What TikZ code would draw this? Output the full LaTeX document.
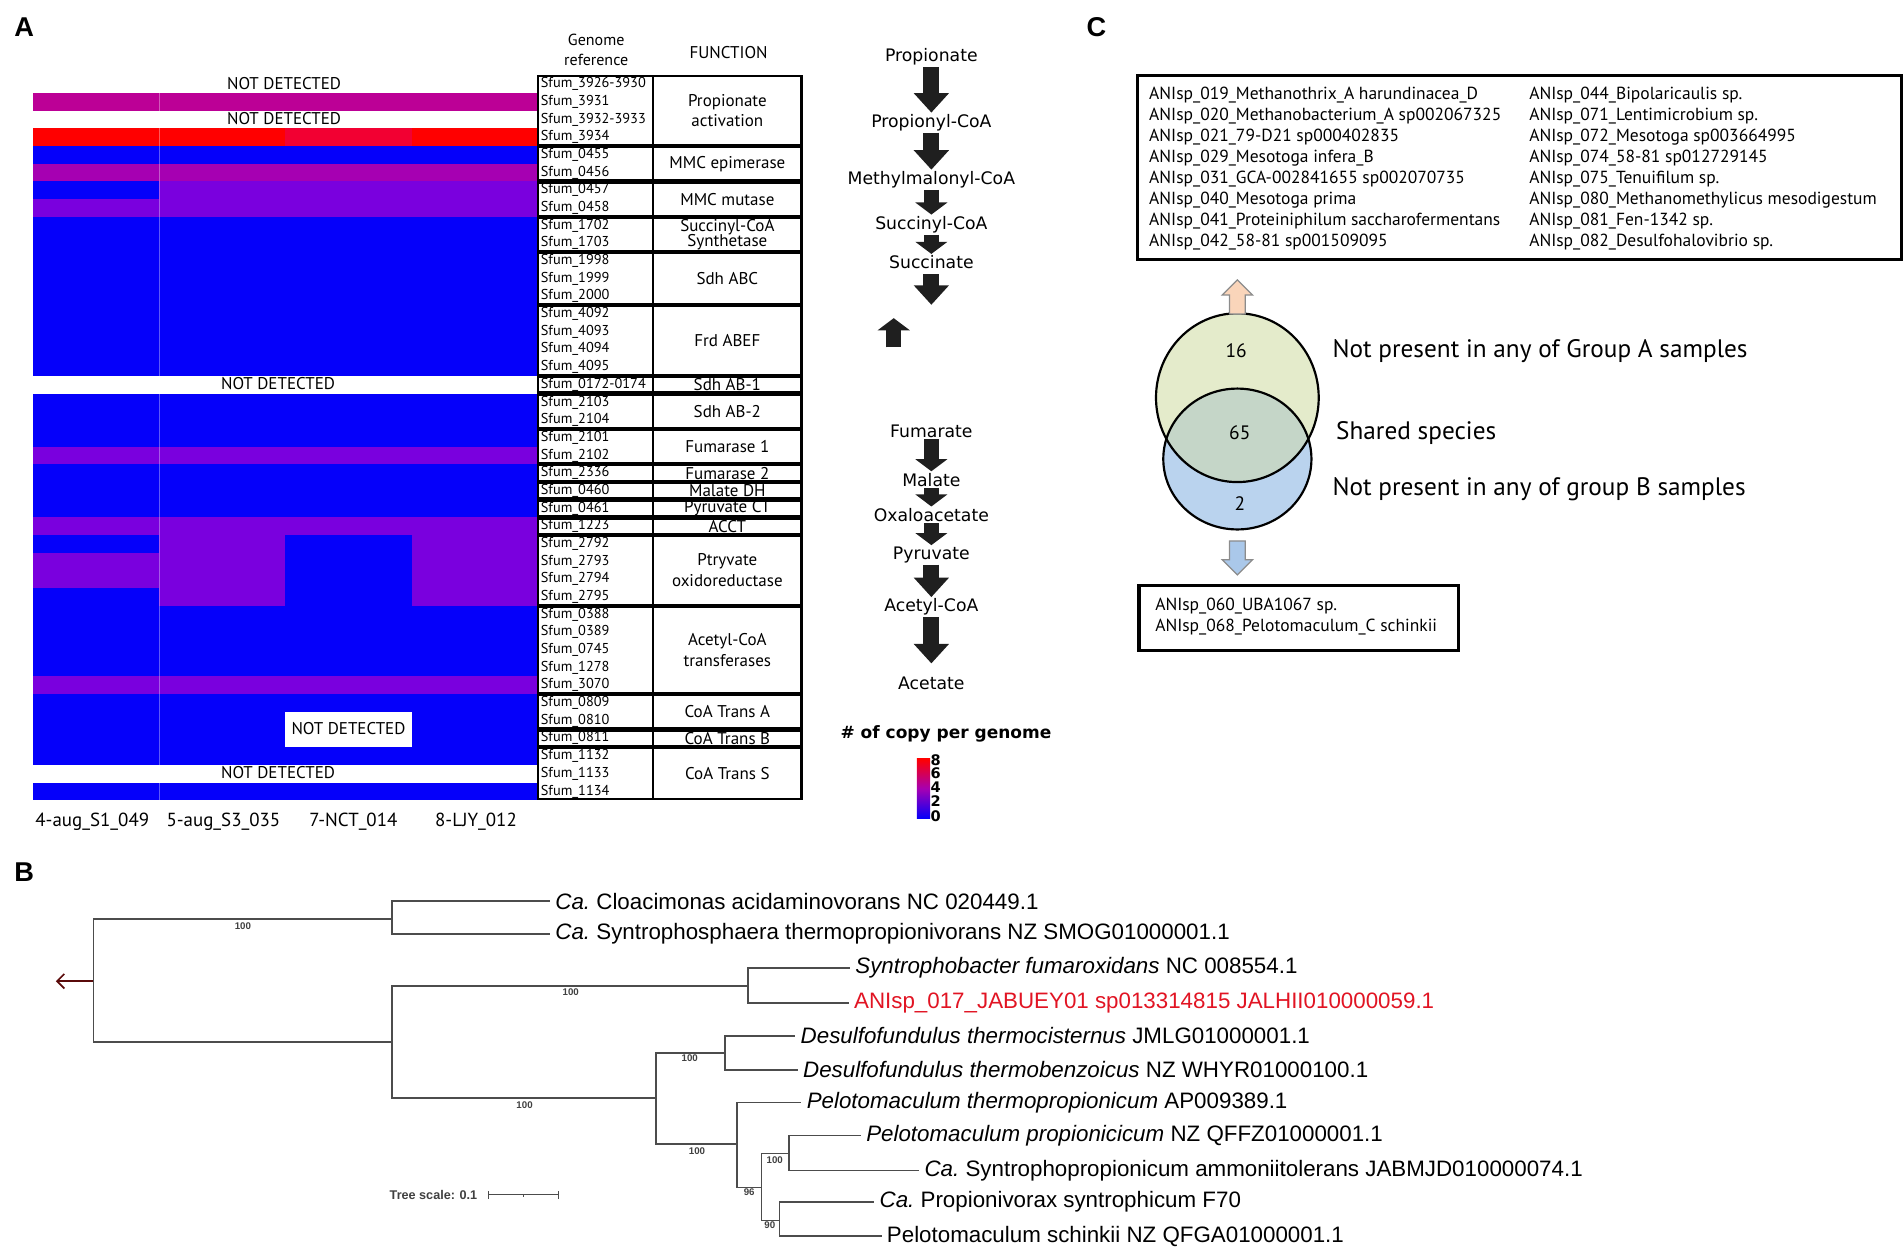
\documentclass[tikz,border=0pt]{standalone}
\usepackage{fontspec}
\setmainfont{Liberation Sans}
\newfontfamily\ptsans{PT Sans}
\newfontfamily\dvsans{DejaVu Sans}
\usetikzlibrary{arrows.meta}
\usetikzlibrary{shapes.arrows}
\usetikzlibrary{positioning}

\definecolor{hmblue}{RGB}{5,0,250}
\definecolor{hmvio}{RGB}{122,0,222}
\definecolor{hmpur}{RGB}{166,0,178}
\definecolor{hmmag}{RGB}{188,0,150}
\definecolor{hmred}{RGB}{255,0,0}
\definecolor{hmredb}{RGB}{242,0,50}
\definecolor{venntop}{RGB}{228,235,203}
\definecolor{vennbot}{RGB}{186,211,238}
\definecolor{vennmid}{RGB}{197,214,200}
\definecolor{upfill}{RGB}{250,213,186}
\definecolor{downfill}{RGB}{170,200,234}
\definecolor{hilite}{RGB}{225,20,35}
\definecolor{rootred}{RGB}{90,10,10}

\tikzset{
  panel/.style={inner sep=0pt, font=\bfseries\fontsize{11.2}{13}\selectfont},
  sfum/.style={anchor=west, inner sep=0pt, font=\ptsans\fontsize{5.9}{6}\selectfont},
  func/.style={align=center, inner sep=0pt, font=\ptsans\fontsize{7}{8.5}\selectfont},
  nd/.style={inner sep=0pt, font=\ptsans\fontsize{7}{8}\selectfont},
  grp/.style={draw=black, line width=0.9pt},
  metab/.style={inner xsep=1.5pt, inner ysep=0.5pt, font=\dvsans\fontsize{7.1}{8}\selectfont},
  flow/.style={line width=6.5pt, draw=black!88, -{Triangle[length=8pt,width=14pt]}},
  flowshort/.style={line width=6pt, draw=black!88, -{Triangle[length=5pt,width=13pt]}},
  leaf/.style={anchor=west, inner sep=2pt, font=\fontsize{9.2}{10}\selectfont},
  boot/.style={inner sep=0pt, font=\bfseries\fontsize{4}{4}\selectfont, text=black!75},
  branch/.style={draw=black!70, line width=0.7pt},
  ctext/.style={anchor=west, inner sep=0pt, font=\ptsans\fontsize{10.4}{12}\selectfont},
  clist/.style={anchor=west, align=left, inner sep=0pt, font=\ptsans\fontsize{7.2}{8.65}\selectfont},
  cnum/.style={inner sep=0pt, font=\ptsans\fontsize{8}{9}\selectfont},
  cbox/.style={draw=black, line width=1.3pt},
  blockarr/.style={single arrow, draw=black!45, line width=0.5pt, inner sep=3pt,
    single arrow head extend=3pt, single arrow head indent=0pt, minimum height=14pt},
}

\begin{document}
\begin{tikzpicture}[x=0.5pt,y=-0.5pt]
  \useasboundingbox (0,0) rectangle (1568,1029);

  % ---------------- A: heat map
  \node[panel] (la) at (20,22) {A};
  \fill[hmblue] (27,62) rectangle (443,659);
  \foreach \row/\hA/\hB/\hC/\hD in {1/white/white/white/white, 2/hmmag/hmmag/hmmag/hmmag,
      3/white/white/white/white, 4/hmred/hmred/hmredb/hmred, 6/hmpur/hmpur/hmpur/hmpur,
      7/hmblue/hmvio/hmvio/hmvio, 8/hmvio/hmvio/hmvio/hmvio, 18/white/white/white/white,
      22/hmvio/hmvio/hmvio/hmvio, 26/hmvio/hmvio/hmvio/hmvio, 27/hmblue/hmvio/hmblue/hmvio,
      28/hmvio/hmvio/hmblue/hmvio, 29/hmvio/hmvio/hmblue/hmvio, 30/hmblue/hmvio/hmblue/hmvio,
      35/hmvio/hmvio/hmvio/hmvio, 37/hmblue/hmblue/white/hmblue, 38/hmblue/hmblue/white/hmblue,
      40/white/white/white/white}
  {
    \pgfmathsetmacro{\yt}{62+(\row-1)*14.561}
    \fill[\hA] (27,\yt) rectangle ++(104.6,14.561);
    \fill[\hB] (131,\yt) rectangle ++(104.6,14.561);
    \fill[\hC] (235,\yt) rectangle ++(104.6,14.561);
    \fill[\hD] (339,\yt) rectangle ++(104,14.561);
  }
  \draw[white, opacity=0.35, line width=0.3pt] (131,75.5) -- (131,659);

  \node[nd] (nd1) at (234,69) {NOT DETECTED};
  \node[nd] (nd2) at (234,98) {NOT DETECTED};
  \node[nd] (nd3) at (229,316) {NOT DETECTED};
  \node[nd] (nd4) at (287,600) {NOT DETECTED};
  \node[nd] (nd5) at (229,636) {NOT DETECTED};

  % genome references
  \node[func, font=\ptsans\fontsize{6.6}{8.3}\selectfont] (gh) at (491,41) {Genome\\reference};
  \node[func] (fh) at (600,43) {FUNCTION};
  \foreach \lab [count=\n] in {3926-3930, 3931, 3932-3933, 3934, 0455, 0456, 0457, 0458,
      1702, 1703, 1998, 1999, 2000, 4092, 4093, 4094, 4095, 0172-0174, 2103, 2104, 2101,
      2102, 2336, 0460, 0461, 1223, 2792, 2793, 2794, 2795, 0388, 0389, 0745, 1278, 3070,
      0809, 0810, 0811, 1132, 1133, 1134}
    \node[sfum] (g\n) at (445,{62+(\n-0.5)*14.561}) {Sfum\_\lab};

  \foreach \a/\b/\txt [count=\n] in {1/4/{Propionate\\activation}, 5/6/{MMC epimerase},
      7/8/{MMC mutase}, 9/10/{Succinyl-CoA\\[-2.5pt]Synthetase}, 11/13/{Sdh ABC},
      14/17/{Frd ABEF}, 18/18/{Sdh AB-1}, 19/20/{Sdh AB-2}, 21/22/{Fumarase 1},
      23/23/{Fumarase 2}, 24/24/{Malate DH}, 25/25/{Pyruvate CT}, 26/26/{ACCT},
      27/30/{Ptryvate\\oxidoreductase}, 31/35/{Acetyl-CoA\\transferases},
      36/37/{CoA Trans A}, 38/38/{CoA Trans B}, 39/41/{CoA Trans S}}
  {
    \pgfmathsetmacro{\yt}{62+(\a-1)*14.561+0.9}
    \pgfmathsetmacro{\yb}{62+\b*14.561-0.9}
    \draw[grp] (443,\yt) rectangle (660,\yb);
    \draw[grp] (538,\yt) -- (538,\yb);
    \node[func] (f\n) at (599,{(\yt+\yb)/2}) {\txt};
  }

  % samples
  \node[nd, font=\ptsans\fontsize{7.8}{9}\selectfont] (s1) at (76,677) {4-aug\_S1\_049};
  \node[nd, font=\ptsans\fontsize{7.8}{9}\selectfont] (s2) at (184,677) {5-aug\_S3\_035};
  \node[nd, font=\ptsans\fontsize{7.8}{9}\selectfont] (s3) at (291,677) {7-NCT\_014};
  \node[nd, font=\ptsans\fontsize{7.8}{9}\selectfont] (s4) at (392,677) {8-LJY\_012};

  % pathway
  \node[metab] (m1) at (767,47) {Propionate};
  \node[metab] (m2) at (767,101) {Propionyl-CoA};
  \node[metab] (m3) at (767,148) {Methylmalonyl-CoA};
  \node[metab] (m4) at (767,185) {Succinyl-CoA};
  \node[metab] (m5) at (767,216) {Succinate};
  \coordinate (m5b) at (767,251);
  \coordinate (upa) at (736,286);
  \coordinate (upb) at (736,262);
  \node[metab] (m6) at (767,355) {Fumarate};
  \node[metab] (m7) at (767,395) {Malate};
  \node[metab] (m8) at (767,424) {Oxaloacetate};
  \node[metab] (m9) at (767,457) {Pyruvate};
  \node[metab] (m10) at (767,500) {Acetyl-CoA};
  \node[metab] (m11) at (767,563) {Acetate};
  \draw[flow] (m1) -- (m2);
  \draw[flow] (m2) -- (m3);
  \draw[flowshort] (m3) -- (m4);
  \draw[flowshort] (m4) -- (m5);
  \draw[flow] ([yshift=-1.5pt]m5.south) -- (m5b);
  \draw[flowshort] (upa) -- (upb);
  \draw[flowshort] (m6) -- (m7);
  \draw[flowshort] (m7) -- (m8);
  \draw[flowshort] (m8) -- (m9);
  \draw[flow] (m9) -- (m10);
  \draw[flow] (m10) -- ([yshift=5pt]m11.north);

  % legend
  \node[inner sep=0pt, font=\dvsans\bfseries\fontsize{7}{8}\selectfont] (leg) at (779,604) {\# of copy per genome};
  \shade[bottom color=hmblue, top color=hmred, middle color=hmpur] (755,625) rectangle (766,674);
  \foreach \v/\y in {8/626, 6/637, 4/648, 2/660, 0/672}
    \node[anchor=west, inner sep=0pt, font=\dvsans\bfseries\fontsize{6}{6}\selectfont] (c\v) at (766,\y) {\v};

  % ---------------- C: venn
  \node[panel] (lc) at (903,22) {C};
  \draw[cbox] (937,62) rectangle (1566,214);
  \node[clist] (cl) at (946,139) {ANIsp\_019\_Methanothrix\_A harundinacea\_D\\
    ANIsp\_020\_Methanobacterium\_A sp002067325\\ ANIsp\_021\_79-D21 sp000402835\\
    ANIsp\_029\_Mesotoga infera\_B\\ ANIsp\_031\_GCA-002841655 sp002070735\\
    ANIsp\_040\_Mesotoga prima\\ ANIsp\_041\_Proteiniphilum saccharofermentans\\
    ANIsp\_042\_58-81 sp001509095};
  \node[clist] (cr) at (1259,139) {ANIsp\_044\_Bipolaricaulis sp.\\
    ANIsp\_071\_Lentimicrobium sp.\\ ANIsp\_072\_Mesotoga sp003664995\\
    ANIsp\_074\_58-81 sp012729145\\ ANIsp\_075\_Tenuifilum sp.\\
    ANIsp\_080\_Methanomethylicus mesodigestum\\ ANIsp\_081\_Fen-1342 sp.\\
    ANIsp\_082\_Desulfohalovibrio sp.};

  \fill[venntop] (1019,327.5) ellipse [x radius=67, y radius=69.5];
  \fill[vennbot] (1019,378) ellipse [x radius=61, y radius=58];
  \begin{scope}
    \clip (1019,327.5) ellipse [x radius=67, y radius=69.5];
    \fill[vennmid] (1019,378) ellipse [x radius=61, y radius=58];
  \end{scope}
  \draw[line width=0.9pt] (1019,378) ellipse [x radius=61, y radius=58];
  \draw[line width=0.9pt] (1019,327.5) ellipse [x radius=67, y radius=69.5];
  \coordinate (vt) at (1019,259);
  \coordinate (vb) at (1019,436);
  \node[cnum] (v16) at (1018,289) {16};
  \node[cnum] (v65) at (1021,356) {65};
  \node[cnum] (v2) at (1021,415) {2};
  \node[ctext] (ta) at (1097,289) {Not present in any of Group A samples};
  \node[ctext] (ts) at (1100,357) {Shared species};
  \node[ctext] (tb) at (1097,403) {Not present in any of group B samples};

  \node[blockarr, fill=upfill, shape border rotate=90, anchor=tail] (upa) at (vt) {};
  \node[blockarr, fill=downfill, shape border rotate=270, anchor=tail] (dna) at ([yshift=-4.5pt]vb) {};

  \draw[cbox] (938,482) rectangle (1201,536);
  \node[clist] (cb) at (951,508) {ANIsp\_060\_UBA1067 sp.\\ ANIsp\_068\_Pelotomaculum\_C schinkii};

  % ---------------- B: tree
  \node[panel] (lb) at (20,718) {B};
  \coordinate (root) at (77,808);
  \coordinate (rootend) at (46,808);
  \coordinate (n1) at (323,757);
  \coordinate (n2) at (323,858);
  \coordinate (n3) at (616,812);
  \coordinate (n4) at (540,904);
  \coordinate (n5) at (597,867);
  \coordinate (n6) at (607,942);
  \coordinate (n7) at (627,978);
  \coordinate (n8) at (650,950);
  \coordinate (n9) at (642,1005);

  \node[leaf] (l1) at (453,742) {\textit{Ca.}\ Cloacimonas acidaminovorans NC 020449.1};
  \node[leaf] (l2) at (453,769) {\textit{Ca.}\ Syntrophosphaera thermopropionivorans NZ SMOG01000001.1};
  \node[leaf] (l3) at (700,797) {\textit{Syntrophobacter fumaroxidans} NC 008554.1};
  \node[leaf, text=hilite] (l4) at (699,826) {ANIsp\_017\_JABUEY01 sp013314815 JALHII010000059.1};
  \node[leaf] (l5) at (655,853) {\textit{Desulfofundulus thermocisternus} JMLG01000001.1};
  \node[leaf] (l6) at (657,881) {\textit{Desulfofundulus thermobenzoicus} NZ WHYR01000100.1};
  \node[leaf] (l7) at (660,908) {\textit{Pelotomaculum thermopropionicum} AP009389.1};
  \node[leaf] (l8) at (709,935) {\textit{Pelotomaculum propionicicum} NZ QFFZ01000001.1};
  \node[leaf] (l9) at (757,964) {\textit{Ca.}\ Syntrophopropionicum ammoniitolerans JABMJD010000074.1};
  \node[leaf] (l10) at (720,990) {\textit{Ca.}\ Propionivorax syntrophicum F70};
  \node[leaf] (l11) at (726,1018) {Pelotomaculum schinkii NZ QFGA01000001.1};

  \draw[branch, draw=rootred, -{Straight Barb[length=3pt,width=6pt]}] (root) -- (rootend);
  \draw[branch] (root) |- (n1);
  \draw[branch] (root) |- (n2);
  \draw[branch] (n1) |- (l1.west);
  \draw[branch] (n1) |- (l2.west);
  \draw[branch] (n2) |- (n3);
  \draw[branch] (n2) |- (n4);
  \draw[branch] (n3) |- (l3.west);
  \draw[branch] (n3) |- (l4.west);
  \draw[branch] (n4) |- (n5);
  \draw[branch] (n4) |- (n6);
  \draw[branch] (n5) |- (l5.west);
  \draw[branch] (n5) |- (l6.west);
  \draw[branch] (n6) |- (l7.west);
  \draw[branch] (n6) |- (n7);
  \draw[branch] (n7) |- (n8);
  \draw[branch] (n7) |- (n9);
  \draw[branch] (n8) |- (l8.west);
  \draw[branch] (n8) |- (l9.west);
  \draw[branch] (n9) |- (l10.west);
  \draw[branch] (n9) |- (l11.west);

  % bootstrap values
  \node[boot] (b1) at (200,763) {100};
  \node[boot] (b2) at (470,817) {100};
  \node[boot] (b3) at (432,910) {100};
  \node[boot] (b4) at (568,871) {100};
  \node[boot] (b5) at (574,948) {100};
  \node[boot] (b6) at (617,982) {96};
  \node[boot] (b7) at (638,955) {100};
  \node[boot] (b8) at (634,1009) {90};

  % scale
  \node[boot, font=\bfseries\fontsize{5.2}{6}\selectfont] (tsc) at (357,984) {Tree scale: 0.1};
  \coordinate (sca) at (402,984);
  \coordinate (scb) at (460,984);
  \draw[branch, line width=0.5pt] (sca) -- (scb);
  \draw[branch, line width=0.5pt] ([yshift=1.5pt]sca) -- ([yshift=-1.5pt]sca);
  \draw[branch, line width=0.5pt] ([yshift=1.5pt]scb) -- ([yshift=-1.5pt]scb);
  \draw[branch, line width=0.4pt] (431,984) -- (431,986);
\end{tikzpicture}
\end{document}
